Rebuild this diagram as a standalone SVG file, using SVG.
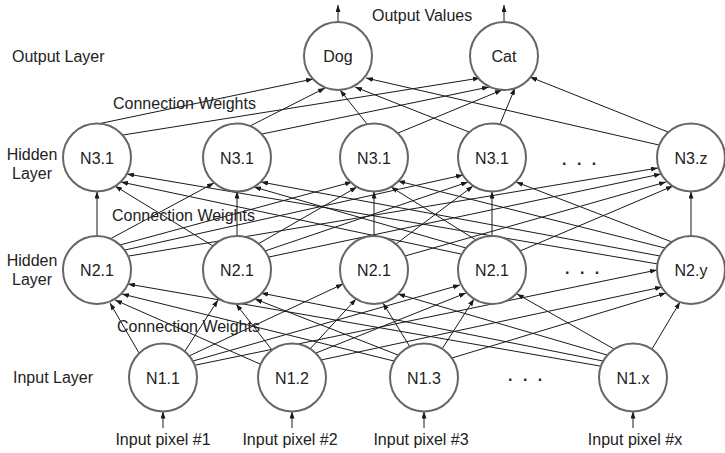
<svg xmlns="http://www.w3.org/2000/svg" width="725" height="453" viewBox="0 0 725 453">
  <style>
    .bg { fill: #ffffff; }
    .c { stroke: #1a1a1a; stroke-width: 1; fill: none; marker-end: url(#ah); }
    .n circle { fill: #ffffff; stroke: #666666; stroke-width: 2; }
    text { font-family: "Liberation Sans", Arial, Helvetica, sans-serif; font-size: 16px; fill: #222222; }
    .nl { text-anchor: middle; }
    .dots { font-weight: bold; letter-spacing: 3px; }
  </style>
  <defs>
    <marker id="ah" viewBox="0 0 7 5" refX="7" refY="2.5" markerWidth="7" markerHeight="5" markerUnits="userSpaceOnUse" orient="auto">
      <path d="M0,0 L7,2.5 L0,5 z" fill="#1a1a1a"/>
    </marker>
  </defs>
  <rect class="bg" x="0" y="0" width="725" height="453"/>

  <!-- connectors -->
  <g id="connectors">
    <!-- output arrows -->
    <line class="c" x1="338" y1="22" x2="338" y2="5"/>
    <line class="c" x1="504" y1="22" x2="504" y2="5"/>
    <!-- hidden layer 3 to output -->
    <line class="c" x1="100" y1="123.5" x2="313" y2="79"/>
    <line class="c" x1="123" y1="135" x2="480" y2="78"/>
    <line class="c" x1="250" y1="126" x2="325" y2="88"/>
    <line class="c" x1="262" y1="134" x2="489" y2="87"/>
    <line class="c" x1="367" y1="124" x2="340" y2="90"/>
    <line class="c" x1="398" y1="133" x2="502" y2="90"/>
    <line class="c" x1="469" y1="132" x2="355" y2="87"/>
    <line class="c" x1="500" y1="124" x2="515" y2="88"/>
    <line class="c" x1="659" y1="145" x2="366" y2="78"/>
    <line class="c" x1="668" y1="132" x2="530" y2="77"/>
    <!-- hidden layer 2 to hidden layer 3 -->
    <line class="c" x1="97" y1="236" x2="97" y2="191.5"/>
    <line class="c" x1="237" y1="236" x2="237" y2="191.5"/>
    <line class="c" x1="374" y1="236" x2="374" y2="191.5"/>
    <line class="c" x1="492" y1="236" x2="492" y2="191.5"/>
    <line class="c" x1="691" y1="236" x2="691" y2="191.5"/>
    <line class="c" x1="110" y1="239" x2="214" y2="183"/>
    <line class="c" x1="120" y1="245" x2="352" y2="182"/>
    <line class="c" x1="125" y1="250" x2="463" y2="175"/>
    <line class="c" x1="129" y1="256" x2="658" y2="168"/>
    <line class="c" x1="213" y1="246" x2="115" y2="186"/>
    <line class="c" x1="258" y1="244" x2="357" y2="187"/>
    <line class="c" x1="265" y1="251" x2="468" y2="182"/>
    <line class="c" x1="269" y1="257" x2="661" y2="174"/>
    <line class="c" x1="396" y1="244" x2="473" y2="186"/>
    <line class="c" x1="405" y1="256" x2="666" y2="182"/>
    <line class="c" x1="461" y1="254" x2="121" y2="182"/>
    <line class="c" x1="466" y1="248" x2="254" y2="187"/>
    <line class="c" x1="476" y1="240" x2="391" y2="187"/>
    <line class="c" x1="520" y1="251" x2="673" y2="186"/>
    <line class="c" x1="658" y1="264" x2="127" y2="174"/>
    <line class="c" x1="660" y1="256" x2="261" y2="182"/>
    <line class="c" x1="665" y1="248" x2="398" y2="181"/>
    <line class="c" x1="672" y1="242" x2="516" y2="182"/>
    <!-- input layer to hidden layer 2 -->
    <line class="c" x1="139" y1="353" x2="110" y2="303"/>
    <line class="c" x1="185" y1="351" x2="218" y2="300"/>
    <line class="c" x1="189" y1="356" x2="343" y2="284"/>
    <line class="c" x1="193" y1="361" x2="460" y2="285"/>
    <line class="c" x1="196" y1="365" x2="657" y2="270"/>
    <line class="c" x1="260" y1="364" x2="115" y2="300"/>
    <line class="c" x1="272" y1="350" x2="236" y2="304"/>
    <line class="c" x1="310" y1="349" x2="356" y2="299"/>
    <line class="c" x1="316" y1="353" x2="466" y2="293"/>
    <line class="c" x1="321" y1="360" x2="662" y2="287"/>
    <line class="c" x1="394" y1="361" x2="122" y2="294"/>
    <line class="c" x1="398" y1="355" x2="255" y2="299"/>
    <line class="c" x1="410" y1="347" x2="383" y2="303"/>
    <line class="c" x1="442" y1="349" x2="474" y2="299"/>
    <line class="c" x1="452" y1="358" x2="666" y2="293"/>
    <line class="c" x1="600" y1="366" x2="128" y2="284"/>
    <line class="c" x1="603" y1="361" x2="261" y2="293"/>
    <line class="c" x1="607" y1="355" x2="398" y2="294"/>
    <line class="c" x1="614" y1="349" x2="517" y2="294"/>
    <line class="c" x1="652" y1="349" x2="680" y2="302"/>
    <!-- input arrows -->
    <line class="c" x1="163" y1="428" x2="163" y2="411.5"/>
    <line class="c" x1="292" y1="428" x2="292" y2="411.5"/>
    <line class="c" x1="424" y1="428" x2="424" y2="411.5"/>
    <line class="c" x1="633" y1="428" x2="633" y2="411.5"/>
  </g>

  <!-- output layer -->
  <g id="out-dog" class="n"><circle cx="338" cy="56" r="34"/><text class="nl" x="338" y="62">Dog</text></g>
  <g id="out-cat" class="n"><circle cx="504" cy="56" r="34"/><text class="nl" x="504" y="62">Cat</text></g>

  <!-- hidden layer 3 -->
  <g id="n3-1" class="n"><circle cx="97" cy="157.5" r="34"/><text class="nl" x="97" y="163.5">N3.1</text></g>
  <g id="n3-2" class="n"><circle cx="237" cy="157.5" r="34"/><text class="nl" x="237" y="163.5">N3.1</text></g>
  <g id="n3-3" class="n"><circle cx="374" cy="157.5" r="34"/><text class="nl" x="374" y="163.5">N3.1</text></g>
  <g id="n3-4" class="n"><circle cx="492" cy="157.5" r="34"/><text class="nl" x="492" y="163.5">N3.1</text></g>
  <g id="n3-z" class="n"><circle cx="691" cy="157.5" r="34"/><text class="nl" x="691" y="163.5">N3.z</text></g>

  <!-- hidden layer 2 -->
  <g id="n2-1" class="n"><circle cx="97" cy="270" r="34"/><text class="nl" x="97" y="276">N2.1</text></g>
  <g id="n2-2" class="n"><circle cx="237" cy="270" r="34"/><text class="nl" x="237" y="276">N2.1</text></g>
  <g id="n2-3" class="n"><circle cx="374" cy="270" r="34"/><text class="nl" x="374" y="276">N2.1</text></g>
  <g id="n2-4" class="n"><circle cx="492" cy="270" r="34"/><text class="nl" x="492" y="276">N2.1</text></g>
  <g id="n2-y" class="n"><circle cx="691" cy="270" r="34"/><text class="nl" x="691" y="276">N2.y</text></g>

  <!-- input layer -->
  <g id="n1-1" class="n"><circle cx="163" cy="377.5" r="34"/><text class="nl" x="163" y="383.5">N1.1</text></g>
  <g id="n1-2" class="n"><circle cx="292" cy="377.5" r="34"/><text class="nl" x="292" y="383.5">N1.2</text></g>
  <g id="n1-3" class="n"><circle cx="424" cy="377.5" r="34"/><text class="nl" x="424" y="383.5">N1.3</text></g>
  <g id="n1-x" class="n"><circle cx="633" cy="377.5" r="34"/><text class="nl" x="633" y="383.5">N1.x</text></g>

  <!-- ellipses for omitted nodes -->
  <g id="ellipses">
    <text class="dots" x="562" y="165">. . .</text>
    <text class="dots" x="565" y="274">. . .</text>
    <text class="dots" x="508" y="381">. . .</text>
  </g>

  <!-- layer and value labels -->
  <g id="labels">
    <text x="12" y="62">Output Layer</text>
    <text x="372" y="21">Output Values</text>
    <text x="113" y="109">Connection Weights</text>
    <text class="nl" x="32" y="160">Hidden</text>
    <text class="nl" x="32" y="179">Layer</text>
    <text x="112" y="221">Connection Weights</text>
    <text class="nl" x="32" y="266">Hidden</text>
    <text class="nl" x="32" y="285">Layer</text>
    <text x="117" y="332">Connection Weights</text>
    <text x="13" y="383">Input Layer</text>
    <text class="nl" x="163" y="445">Input pixel #1</text>
    <text class="nl" x="290" y="445">Input pixel #2</text>
    <text class="nl" x="421" y="445">Input pixel #3</text>
    <text class="nl" x="635" y="445">Input pixel #x</text>
  </g>
</svg>
